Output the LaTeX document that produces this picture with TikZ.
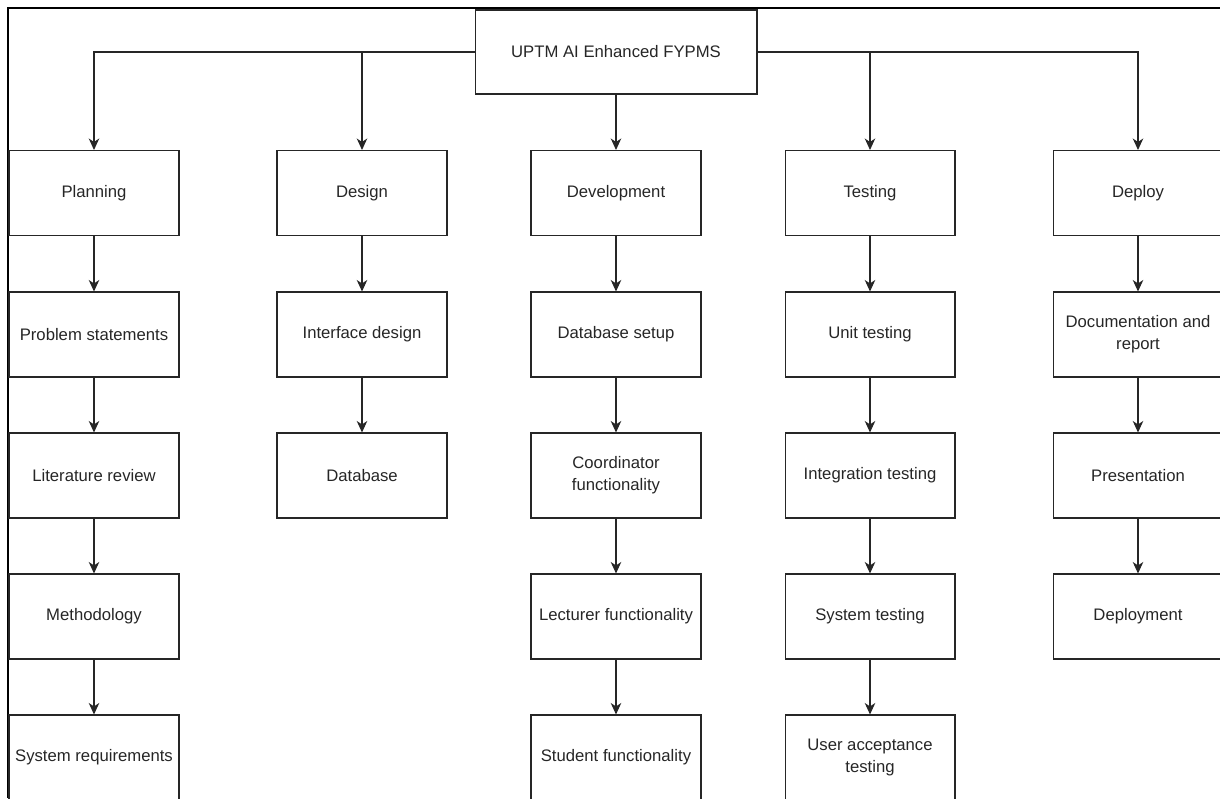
\documentclass[tikz,border=0pt]{standalone}
\usepackage{fontspec}
\setmainfont{Liberation Sans}
\usepackage{xcolor}
\usepackage{tikz}
\usetikzlibrary{arrows.meta}
\tikzset{
  wbsbox/.style={draw=black!85, line width=0.6pt, minimum width=3.4cm, minimum height=1.7cm,
    align=center, inner sep=2pt, text=black!85, font=\fontsize{9.5}{12.5}\selectfont},
  rootbox/.style={wbsbox, minimum width=5.64cm, minimum height=1.68cm},
  link/.style={draw=black!85, line width=0.6pt, arrows={-Stealth[length=2.3mm, width=2.1mm, inset=0.7mm]}},
}

\begin{document}
\begin{tikzpicture}[x=0.02cm, y=-0.02cm]
    \useasboundingbox (0,0) rectangle (1220,798);
    \clip (0,0) rectangle (1220,798);
    % Frame
    \draw[line width=1.3pt] (8,798) -- (8,8) -- (1220,8);
    % Root
    \node[rootbox] (root) at (616,52) {UPTM AI Enhanced FYPMS};
    % Phases
    \node[wbsbox] (plan) at (94,193) {Planning};
    \node[wbsbox] (design) at (362,193) {Design};
    \node[wbsbox] (dev) at (616,193) {Development};
    \node[wbsbox] (test) at (870,193) {Testing};
    \node[wbsbox] (deploy) at (1138,193) {Deploy};
    % Planning tasks
    \node[wbsbox] (plan1) at (94,334.5) {Problem statements};
    \node[wbsbox] (plan2) at (94,475.5) {Literature review};
    \node[wbsbox] (plan3) at (94,616.5) {Methodology};
    \node[wbsbox] (plan4) at (94,757.5) {System requirements};
    % Design tasks
    \node[wbsbox] (design1) at (362,334.5) {Interface design};
    \node[wbsbox] (design2) at (362,475.5) {Database};
    % Development tasks
    \node[wbsbox] (dev1) at (616,334.5) {Database setup};
    \node[wbsbox] (dev2) at (616,475.5) {Coordinator\\functionality};
    \node[wbsbox] (dev3) at (616,616.5) {Lecturer functionality};
    \node[wbsbox] (dev4) at (616,757.5) {Student functionality};
    % Testing tasks
    \node[wbsbox] (test1) at (870,334.5) {Unit testing};
    \node[wbsbox] (test2) at (870,475.5) {Integration testing};
    \node[wbsbox] (test3) at (870,616.5) {System testing};
    \node[wbsbox] (test4) at (870,757.5) {User acceptance\\testing};
    % Deploy tasks
    \node[wbsbox] (deploy1) at (1138,334.5) {Documentation and\\report};
    \node[wbsbox] (deploy2) at (1138,475.5) {Presentation};
    \node[wbsbox] (deploy3) at (1138,616.5) {Deployment};
    % Root to phases
    \draw[link] (root.west) -| (plan.north);
    \draw[link] (root.west) -| (design.north);
    \draw[link] (root.south) -- (dev.north);
    \draw[link] (root.east) -| (test.north);
    \draw[link] (root.east) -| (deploy.north);
    % Chains
    \draw[link] (plan) -- (plan1);
    \draw[link] (plan1) -- (plan2);
    \draw[link] (plan2) -- (plan3);
    \draw[link] (plan3) -- (plan4);
    \draw[link] (design) -- (design1);
    \draw[link] (design1) -- (design2);
    \draw[link] (dev) -- (dev1);
    \draw[link] (dev1) -- (dev2);
    \draw[link] (dev2) -- (dev3);
    \draw[link] (dev3) -- (dev4);
    \draw[link] (test) -- (test1);
    \draw[link] (test1) -- (test2);
    \draw[link] (test2) -- (test3);
    \draw[link] (test3) -- (test4);
    \draw[link] (deploy) -- (deploy1);
    \draw[link] (deploy1) -- (deploy2);
    \draw[link] (deploy2) -- (deploy3);
\end{tikzpicture}
\end{document}
